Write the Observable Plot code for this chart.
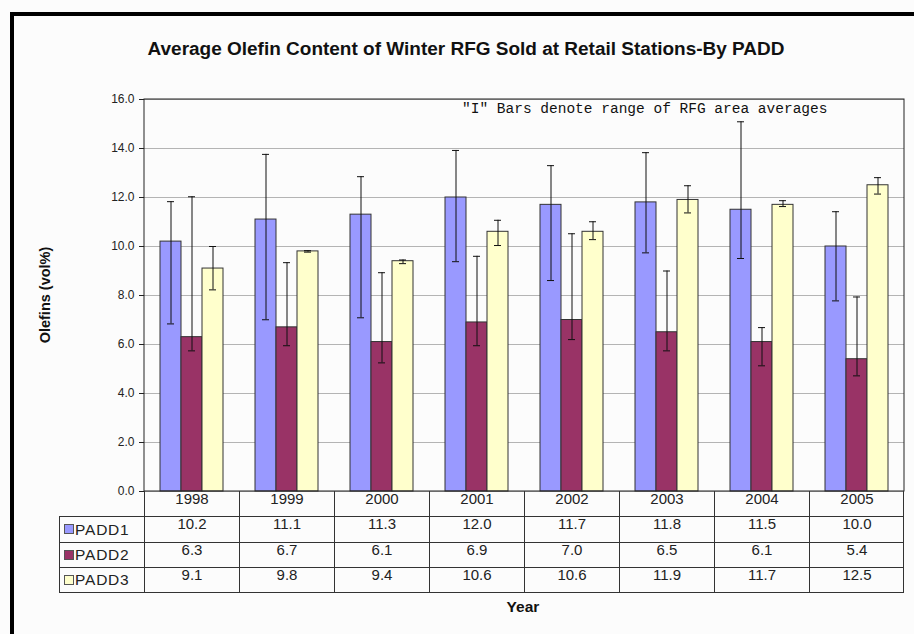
<!DOCTYPE html>
<html><head><meta charset="utf-8">
<script src="https://cdn.jsdelivr.net/npm/d3@7"></script>
<script src="https://cdn.jsdelivr.net/npm/@observablehq/plot@0.6"></script>
<style>
html,body{margin:0;padding:0;background:#fcfcfc;}
#chart{position:relative;width:914px;height:634px;overflow:hidden;background:#fcfcfc;}
#chart svg{position:absolute;left:0;top:0;}
</style></head><body><div id="chart"></div>
<script>
// ---- data ----
const years = ["1998", "1999", "2000", "2001", "2002", "2003", "2004", "2005"];
const seriesNames = ["PADD1", "PADD2", "PADD3"];
const seriesColors = ["#9999ff", "#993366", "#ffffcc"];
const padd1 = [10.2, 11.1, 11.3, 12.0, 11.7, 11.8, 11.5, 10.0];
const padd2 = [6.3, 6.7, 6.1, 6.9, 7.0, 6.5, 6.1, 5.4];
const padd3 = [9.1, 9.8, 9.4, 10.6, 10.6, 11.9, 11.7, 12.5];
const padd1Lo = [6.84, 7.01, 7.09, 9.38, 8.61, 9.74, 9.51, 7.78];
const padd1Hi = [11.83, 13.76, 12.85, 13.92, 13.30, 13.83, 15.09, 11.42];
const padd2Lo = [5.74, 5.95, 5.25, 5.95, 6.20, 5.74, 5.13, 4.72];
const padd2Hi = [12.03, 9.34, 8.93, 9.60, 10.52, 9.00, 6.69, 7.94];
const padd3Lo = [8.23, 9.77, 9.30, 10.04, 10.28, 11.37, 11.63, 12.14];
const padd3Hi = [10.00, 9.83, 9.45, 11.07, 11.01, 12.48, 11.87, 12.81];
const yTicks = [0, 2, 4, 6, 8, 10, 12, 14, 16];
const titleText = "Average Olefin Content of Winter RFG Sold at Retail Stations-By PADD";
const noteText = "\"I\" Bars denote range of RFG area averages";
const yLabel = "Olefins (vol%)";
const xLabel = "Year";

// ---- table built from arrays ----
const values = [padd1, padd2, padd3];
const lows = [padd1Lo, padd2Lo, padd3Lo];
const highs = [padd1Hi, padd2Hi, padd3Hi];
const data = seriesNames.flatMap((s, i) => years.map((yr, j) => ({
  year: yr, series: s, value: values[i][j], lo: lows[i][j], hi: highs[i][j]
})));

const W = 914, H = 634, mT = 99, mB = 143, mL = 141, mR = 8;
const rowH = 25.3;
const sans = "'Liberation Sans', Arial, sans-serif";

const plot = Plot.plot({
  width: W, height: H,
  marginTop: mT, marginBottom: mB, marginLeft: mL, marginRight: mR,
  style: {background: "transparent", fontFamily: sans, color: "#111", overflow: "visible"},
  fx: {domain: years, padding: 0, axis: null},
  x: {domain: seriesNames, paddingInner: 0, paddingOuter: 0.745, axis: null},
  y: {domain: [0, 16]},
  color: {domain: seriesNames, range: seriesColors},
  marks: [
    Plot.gridY(yTicks, {stroke: "#b4b4b4", strokeOpacity: 1}),
    Plot.barY(data, {fx: "year", x: "series", y: "value", fill: "series", stroke: "#333", strokeWidth: 1}),
    Plot.ruleX(data, {fx: "year", x: "series", y1: "lo", y2: "hi", stroke: "#111", strokeWidth: 1}),
    Plot.tickY(data, {fx: "year", x: "series", y: "lo", stroke: "#111", insetLeft: 7, insetRight: 7}),
    Plot.tickY(data, {fx: "year", x: "series", y: "hi", stroke: "#111", insetLeft: 7, insetRight: 7}),
    Plot.axisY(yTicks, {anchor: "left", tickFormat: d => d.toFixed(1), tickSize: 5, tickPadding: 5, fontSize: 12, label: null, stroke: "#222", fill: "#222"}),
    Plot.text(years, {fx: d => d, text: d => d, frameAnchor: "bottom", dy: rowH / 2, fontSize: 15, fill: "#222"}),
    ...seriesNames.map((s, i) => Plot.text(data.filter(d => d.series === s), {
      fx: "year", text: d => d.value.toFixed(1), frameAnchor: "bottom",
      dy: rowH * (i + 1.5), fontSize: 15, fill: "#222"
    }))
  ]
});
document.getElementById("chart").appendChild(plot);

// ---- decorations positioned from the plot's own scales ----
const svg = d3.select(plot);
const fx = plot.scale("fx");
const ys = plot.scale("y");
const y0 = ys.apply(0), yTop = ys.apply(16);
const xStart = fx.apply(years[0]);
const xEnd = fx.apply(years[years.length - 1]) + fx.bandwidth;
const legendLeft = 59;
const g = svg.append("g").attr("text-anchor", "start");

// outer black frame
g.append("rect").attr("x", 12).attr("y", 14).attr("width", 1000).attr("height", 1000)
  .attr("fill", "none").attr("stroke", "#000").attr("stroke-width", 4);

// plot-area box
g.append("rect").attr("x", xStart).attr("y", yTop).attr("width", xEnd - xStart).attr("height", y0 - yTop)
  .attr("fill", "none").attr("stroke", "#222").attr("stroke-width", 1);

// data table lines
const tableBottom = y0 + rowH * 4;
years.forEach(yr => {
  const xx = Math.round(fx.apply(yr)) + 0.5;
  g.append("line").attr("x1", xx).attr("x2", xx).attr("y1", y0).attr("y2", tableBottom).attr("stroke", "#333");
});
g.append("line").attr("x1", Math.round(xEnd) - 0.5).attr("x2", Math.round(xEnd) - 0.5).attr("y1", y0).attr("y2", tableBottom).attr("stroke", "#333");
g.append("line").attr("x1", legendLeft + 0.5).attr("x2", legendLeft + 0.5).attr("y1", y0 + rowH).attr("y2", tableBottom).attr("stroke", "#333");
for (let r = 1; r <= 4; r++) {
  const yy = Math.round(y0 + rowH * r) + 0.5;
  g.append("line").attr("x1", legendLeft).attr("x2", xEnd).attr("y1", yy).attr("y2", yy).attr("stroke", "#333");
}
// legend keys in the table
seriesNames.forEach((s, i) => {
  const cy = y0 + rowH * (i + 1.5);
  g.append("rect").attr("x", 64.5).attr("y", Math.round(cy - 4.5) + 0.5).attr("width", 9).attr("height", 9)
    .attr("fill", seriesColors[i]).attr("stroke", "#555");
  g.append("text").attr("x", 75).attr("y", cy).attr("dy", "0.36em").attr("text-anchor", "start")
    .attr("font-family", sans).attr("font-size", 15.5).attr("letter-spacing", 0.8).attr("fill", "#222").text(s);
});

// title
g.append("text").attr("x", 466).attr("y", 55).attr("text-anchor", "middle")
  .attr("font-family", sans).attr("font-weight", "bold").attr("font-size", 17.5)
  .attr("textLength", 637).attr("lengthAdjust", "spacingAndGlyphs").attr("fill", "#111").text(titleText);
// note
g.append("text").attr("x", 462).attr("y", 113).attr("text-anchor", "start")
  .attr("font-family", "'Liberation Mono', 'Courier New', monospace").attr("font-size", 14.5)
  .attr("fill", "#111").text(noteText);
// y label
g.append("text").attr("transform", `translate(50,${(y0 + yTop) / 2}) rotate(-90)`).attr("text-anchor", "middle")
  .attr("font-family", sans).attr("font-weight", "bold").attr("font-size", 14.5).attr("fill", "#111").text(yLabel);
// x label
g.append("text").attr("x", 523).attr("y", 612).attr("text-anchor", "middle")
  .attr("font-family", sans).attr("font-weight", "bold").attr("font-size", 15.5).attr("fill", "#111").text(xLabel);
</script>
</body></html>
